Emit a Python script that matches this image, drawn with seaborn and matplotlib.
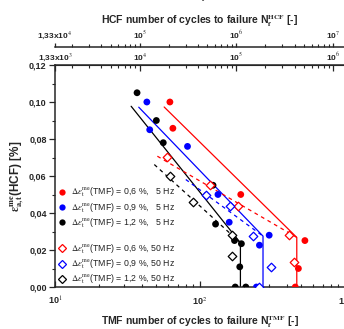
import numpy as np
import pandas as pd
import matplotlib
matplotlib.use("Agg")
import matplotlib.pyplot as plt
from matplotlib.lines import Line2D
from matplotlib.ticker import FixedLocator, LogLocator, NullFormatter
import seaborn as sns

sns.set_style("ticks")
plt.rcParams['font.family'] = ['Liberation Sans', 'DejaVu Sans']
plt.rcParams['mathtext.fontset'] = 'stix'

# ---- data ----
# 5 Hz (filled circles): TMF cycles to failure, strain amplitude [%]
red5_n = [62, 65, 191, 529, 477, 454]
red5_e = [0.100, 0.0858, 0.050, 0.0251, 0.010, 0.0]
blue5_n = [43, 45, 82, 133, 159, 300, 257, 245]
blue5_e = [0.100, 0.085, 0.076, 0.050, 0.035, 0.028, 0.0226, 0.0]
black5_n = [36.8, 50, 55.8, 123, 128, 173, 193, 188, 175, 207]
black5_e = [0.105, 0.090, 0.078, 0.055, 0.034, 0.0251, 0.0234, 0.0109, 0.0, 0.0]

# 50 Hz (open diamonds)
red50_n = [59, 118, 183, 411, 444]
red50_e = [0.070, 0.055, 0.0437, 0.028, 0.0134]
blue50_n = [110, 160, 231, 310, 255]
blue50_e = [0.050, 0.0437, 0.0277, 0.011, 0.0]
black50_n = [62, 90, 166, 166]
black50_e = [0.060, 0.0458, 0.028, 0.017]

# fitted lines (5 Hz solid with vertical cut-off, 50 Hz dashed)
red5_fit_n = [56.6, 465, 465]
red5_fit_e = [0.0973, 0.0268, 0.0]
red50_fit_n = [50.8, 465]
red50_fit_e = [0.0707, 0.0268]
blue5_fit_n = [37.8, 272, 272]
blue5_fit_e = [0.0972, 0.0275, 0.0]
blue50_fit_n = [79.8, 272]
blue50_fit_e = [0.0581, 0.0275]
black5_fit_n = [33.5, 190, 190]
black5_fit_e = [0.0977, 0.0239, 0.0]
black50_fit_n = [48.4, 190]
black50_fit_e = [0.0662, 0.0239]

amps = ['0,6', '0,9', '1,2']
colors = ['#ff0000', '#0000ff', '#000000']

fig = plt.figure(figsize=(3.44, 3.29), dpi=100)
ax = fig.add_axes([55 / 344, 1 - 287 / 329, 290 / 344, 222 / 329])

fits5 = [(red5_fit_n, red5_fit_e), (blue5_fit_n, blue5_fit_e), (black5_fit_n, black5_fit_e)]
fits50 = [(red50_fit_n, red50_fit_e), (blue50_fit_n, blue50_fit_e), (black50_fit_n, black50_fit_e)]
for (xn, ye), c in zip(fits5, colors):
    sns.lineplot(x=xn, y=ye, sort=False, estimator=None, color=c, lw=0.9, ax=ax)
for (xn, ye), c in zip(fits50, colors):
    sns.lineplot(x=xn, y=ye, sort=False, estimator=None, color=c, lw=0.9,
                 dashes=False, ax=ax, linestyle=(0, (3, 3)))

pts5 = [(red5_n, red5_e), (blue5_n, blue5_e), (black5_n, black5_e)]
pts50 = [(red50_n, red50_e), (blue50_n, blue50_e), (black50_n, black50_e)]
for (xn, ye), c in zip(pts5, colors):
    df = pd.DataFrame({'n': xn, 'e': ye})
    sns.scatterplot(data=df, x='n', y='e', color=c, s=24, edgecolor='none',
                    zorder=5, ax=ax)
for (xn, ye), c in zip(pts50, colors):
    df = pd.DataFrame({'n': xn, 'e': ye})
    sns.scatterplot(data=df, x='n', y='e', marker='D', s=19, facecolor='white',
                    edgecolor=c, linewidth=0.9, zorder=5, ax=ax)

ax.set_xscale('log')
ax.set_xlim(10, 1000)
ax.set_ylim(0, 0.12)
ax.set_xlabel('')
ax.set_ylabel('')
ax.set_yticks(np.arange(0, 0.121, 0.02))
ax.set_yticklabels([f'{v:.2f}'.replace('.', ',') for v in np.arange(0, 0.121, 0.02)],
                   fontsize=6.5, fontweight='bold')
ax.yaxis.set_minor_locator(FixedLocator(np.arange(0.01, 0.12, 0.02)))
ax.set_xticks([10, 100, 1000])
ax.set_xticklabels([r'10$^1$', r'10$^2$', r'10$^3$'], fontsize=6.5, fontweight='bold')
ax.xaxis.set_minor_locator(LogLocator(base=10, subs=np.arange(2, 10)))
ax.xaxis.set_minor_formatter(NullFormatter())
ax.tick_params(axis='y', which='major', direction='out', length=4, width=0.9, pad=2)
ax.tick_params(axis='y', which='minor', direction='out', length=2.5, width=0.8)
ax.tick_params(axis='x', which='major', direction='in', length=4, width=0.9, pad=6)
ax.tick_params(axis='x', which='minor', direction='in', length=2.5, width=0.8)
ax.spines['right'].set_visible(False)
for s in ['left', 'bottom', 'top']:
    ax.spines[s].set_linewidth(1.1)

# top axis: HCF cycles, 1.33e3 .. 1.33e6
ax2 = ax.twiny()
ax2.set_xscale('log')
ax2.set_xlim(1.33e3, 1.33e6)
ax2.set_xticks([1.33e3, 1e4, 1e5, 1e6])
ax2.set_xticklabels([r'1,33x10$^3$', r'10$^4$', r'10$^5$', r'10$^6$'],
                    fontsize=6, fontweight='bold')
ax2.xaxis.set_minor_locator(LogLocator(base=10, subs=np.arange(2, 10)))
ax2.xaxis.set_minor_formatter(NullFormatter())
ax2.tick_params(axis='x', which='major', direction='in', length=4, width=0.9, pad=1.5)
ax2.tick_params(axis='x', which='minor', direction='in', length=2.5, width=0.8)
for s in ['left', 'right', 'bottom']:
    ax2.spines[s].set_visible(False)

# outer top axis: 1.33e4 .. 1.33e7
ax3 = ax.twiny()
ax3.set_xscale('log')
ax3.set_xlim(1.33e4, 1.33e7)
ax3.spines['top'].set_position(('outward', 13))
ax3.spines['top'].set_linewidth(1.1)
ax3.set_xticks([1.33e4, 1e5, 1e6, 1e7])
ax3.set_xticklabels([r'1,33x10$^4$', r'10$^5$', r'10$^6$', r'10$^7$'],
                    fontsize=6, fontweight='bold')
ax3.xaxis.set_minor_locator(LogLocator(base=10, subs=np.arange(2, 10)))
ax3.xaxis.set_minor_formatter(NullFormatter())
ax3.tick_params(axis='x', which='major', direction='out', length=3, width=0.9, pad=1)
ax3.tick_params(axis='x', which='minor', direction='out', length=2, width=0.8)
for s in ['left', 'right', 'bottom']:
    ax3.spines[s].set_visible(False)

# legend
handles = []
labels = []
for a, c in zip(amps, colors):
    handles.append(Line2D([], [], marker='o', linestyle='none', color=c,
                          markersize=4.5, markeredgewidth=0))
    labels.append(r'$\Delta\varepsilon_{\mathrm{t}}^{\mathrm{me}}$(TMF) = ' + a + ' %,   5 Hz')
handles.append(Line2D([], [], linestyle='none'))
labels.append(' ')
for a, c in zip(amps, colors):
    handles.append(Line2D([], [], marker='D', linestyle='none', markerfacecolor='white',
                          markeredgecolor=c, markersize=4, markeredgewidth=0.9))
    labels.append(r'$\Delta\varepsilon_{\mathrm{t}}^{\mathrm{me}}$(TMF) = ' + a + ' %, 50 Hz')
leg = ax.legend(handles, labels, loc='lower left', bbox_to_anchor=(-0.01, -0.025),
                frameon=False, fontsize=6.3, handlelength=0.8, handletextpad=0.7,
                labelspacing=0.21, borderpad=0.2)
for t in leg.get_texts():
    t.set_color('#222222')

# axis titles
fig.text(200 / 344, 1 - 322 / 329, r'TMF number of cycles to failure N$_\mathbf{f}^\mathbf{TMF}$ [-]',
         ha='center', va='center', fontsize=7.5, fontweight='bold')
fig.text(200 / 344, 1 - 21 / 329, r'HCF number of cycles to failure N$_\mathbf{f}^\mathbf{HCF}$ [-]',
         ha='center', va='center', fontsize=7.5, fontweight='bold')
fig.text(200 / 344, 1 + 3 / 329, r'N$_\mathbf{f}$', ha='center', va='center',
         fontsize=7.5, fontweight='bold')
fig.text(17 / 344, 1 - 176 / 329, r'$\mathbf{\varepsilon_{a,t}^{me}}$(HCF) [%]',
         ha='center', va='center', rotation=90, fontsize=8.5, fontweight='bold')

fig.savefig('out.png', dpi=100)
